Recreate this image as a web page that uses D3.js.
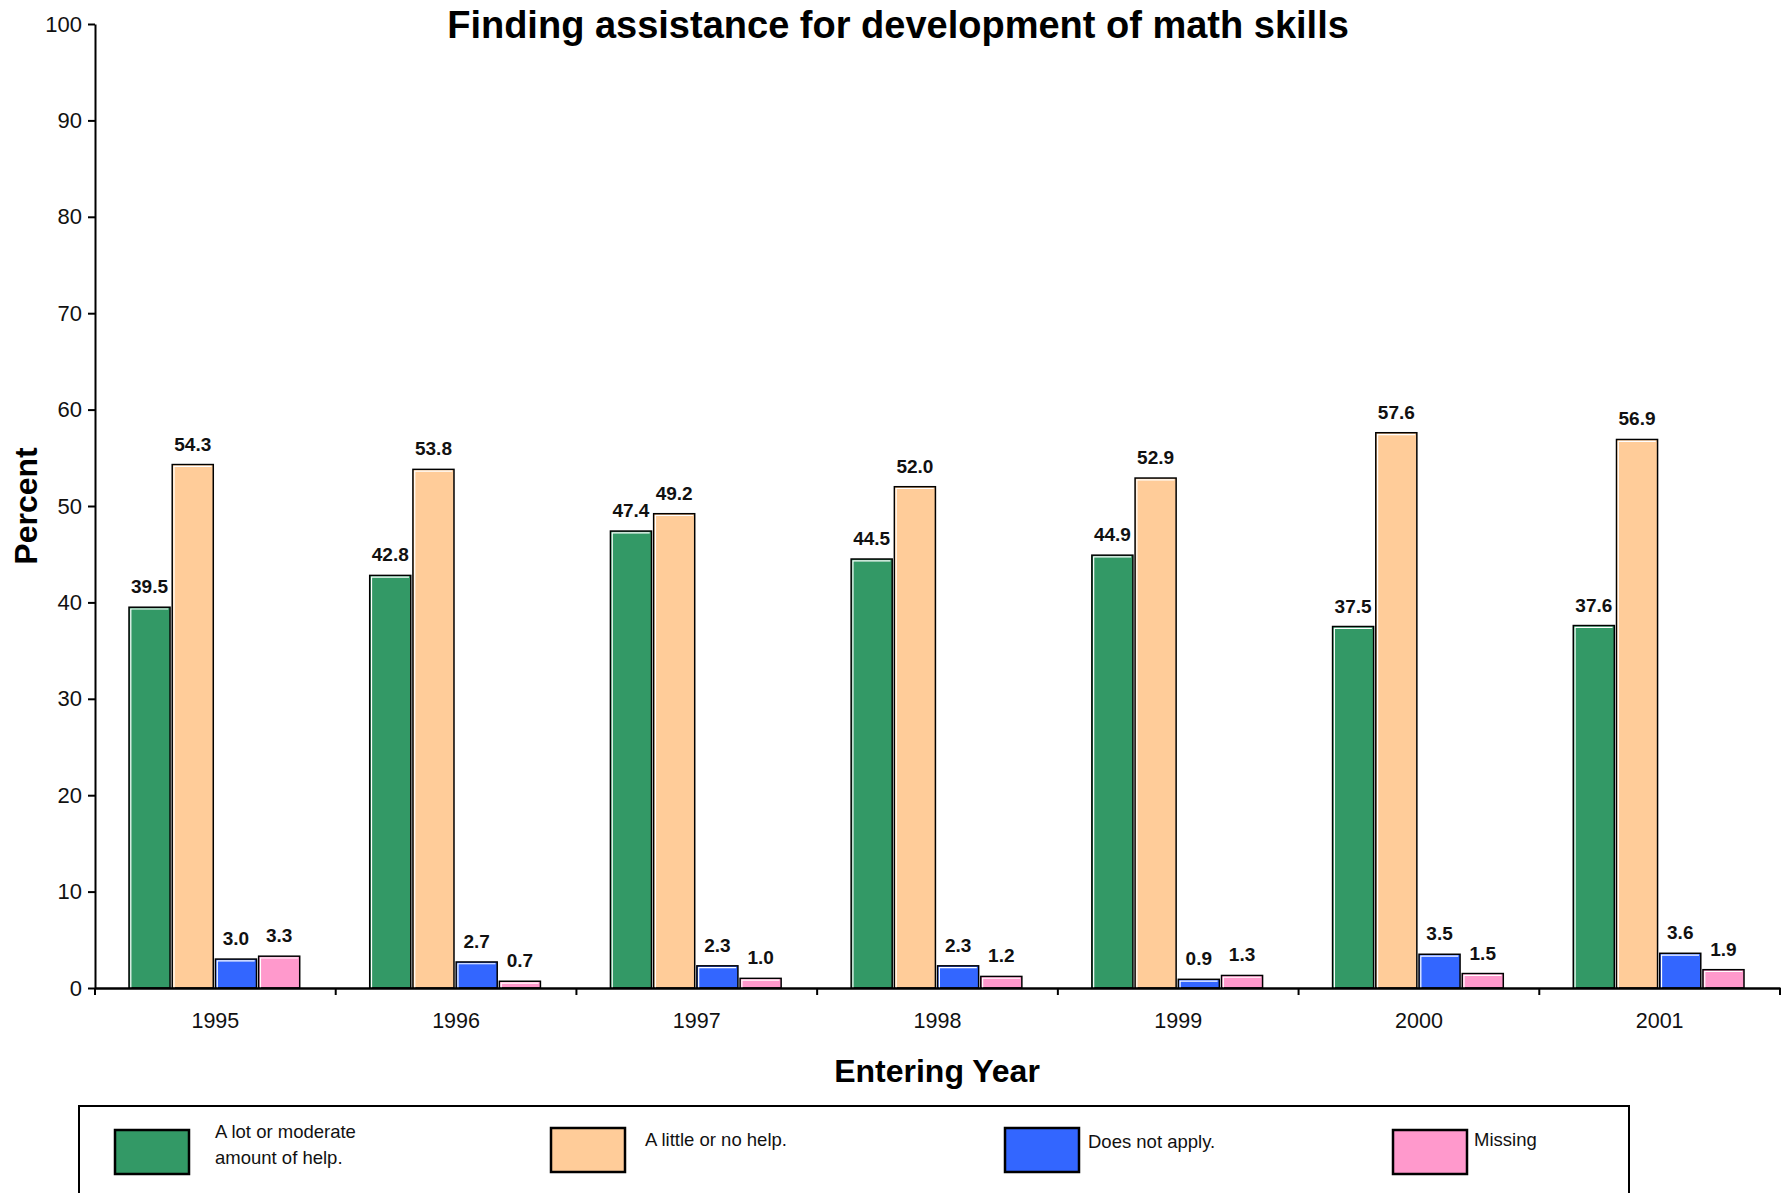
<!DOCTYPE html>
<html lang="en">
<head>
    <meta charset="UTF-8">
    <title>Finding assistance for development of math skills</title>
    <script src="https://cdn.jsdelivr.net/npm/d3@7/dist/d3.min.js"></script>
    <style>
        body { margin: 0; background: #fff; }
        text { font-family: "Liberation Sans", Arial, sans-serif; }
    </style>
</head>
<body>
<svg width="1787" height="1193" id="main"></svg>
<script>
    // data
    const years = ['1995', '1996', '1997', '1998', '1999', '2000', '2001'];
    const seriesNames = ['A lot or moderate amount of help.', 'A little or no help.', 'Does not apply.', 'Missing'];
    const lotOrModerate = [39.5, 42.8, 47.4, 44.5, 44.9, 37.5, 37.6];
    const littleOrNone = [54.3, 53.8, 49.2, 52.0, 52.9, 57.6, 56.9];
    const doesNotApply = [3.0, 2.7, 2.3, 2.3, 0.9, 3.5, 3.6];
    const missing = [3.3, 0.7, 1.0, 1.2, 1.3, 1.5, 1.9];
    const yTicks = [0, 10, 20, 30, 40, 50, 60, 70, 80, 90, 100];

    const seriesValues = [lotOrModerate, littleOrNone, doesNotApply, missing];
    const colors = ['#339966', '#FFCC99', '#3366FF', '#FF99CC'];

    let svg = d3.select('#main');
    let margin = {top: 24, right: 7, bottom: 205, left: 95};
    const width = +svg.attr('width');
    const height = +svg.attr('height');
    const innerWidth = width - margin.left - margin.right;
    const innerHeight = height - margin.top - margin.bottom;

    let xScale = d3.scaleBand().domain(years).range([0, innerWidth]).padding(0);
    let x1 = d3.scaleBand().domain(d3.range(4))
        .range([34, xScale.bandwidth() - 36]).paddingInner(0.05);
    let yScale = d3.scaleLinear().domain([0, 100]).range([innerHeight, 0]);

    let g = svg.append('g').attr('transform', `translate(${margin.left}, ${margin.top})`);

    // bars
    years.forEach((year, i) => {
        let grp = g.append('g').attr('transform', `translate(${xScale(year)}, 0)`);
        seriesValues.forEach((vals, s) => {
            const v = vals[i];
            const bx = x1(s), bw = x1.bandwidth();
            const by = yScale(v), bh = yScale(0) - yScale(v);
            grp.append('rect')
                .attr('x', bx).attr('y', by)
                .attr('width', bw).attr('height', bh)
                .attr('fill', colors[s])
                .attr('stroke', '#000').attr('stroke-width', 1.5);
            // white highlight on left and top edges
            if (bh > 3) {
                grp.append('path')
                    .attr('d', `M${bx + 1.8},${by + bh} V${by + 1.8} H${bx + bw - 1.8}`)
                    .attr('fill', 'none').attr('stroke', '#fff').attr('stroke-width', 1.2);
            }
            grp.append('text')
                .attr('x', bx + bw / 2).attr('y', by - 14)
                .attr('text-anchor', 'middle')
                .attr('font-size', '19px').attr('font-weight', 'bold')
                .attr('fill', '#111')
                .text(v.toFixed(1));
        });
    });

    // y axis
    let yAxis = d3.axisLeft(yScale).tickValues(yTicks).tickSize(7).tickPadding(6).tickSizeOuter(0);
    let yg = g.append('g').call(yAxis);
    yg.select('.domain').attr('stroke-width', 2);
    yg.selectAll('.tick line').attr('stroke-width', 2);
    yg.selectAll('.tick text').attr('font-size', '22px').attr('fill', '#111')
        .style('font-family', '"Liberation Sans", Arial, sans-serif');

    // x axis: ticks at category boundaries
    let xAxis = d3.axisBottom(xScale).tickSize(0).tickPadding(25).tickSizeOuter(0);
    let xg = g.append('g').attr('transform', `translate(0, ${innerHeight})`).call(xAxis);
    xg.select('.domain').attr('stroke-width', 2.5);
    xg.selectAll('.tick text').attr('font-size', '21.5px').attr('fill', '#111')
        .style('font-family', '"Liberation Sans", Arial, sans-serif');
    const bounds = years.map(y => xScale(y)).concat([innerWidth]);
    xg.selectAll('.sep').data(bounds).enter().append('line')
        .attr('x1', d => d).attr('x2', d => d)
        .attr('y1', 0).attr('y2', 7)
        .attr('stroke', '#000').attr('stroke-width', 2);

    // title and axis titles
    svg.append('text').text('Finding assistance for development of math skills')
        .attr('x', 898).attr('y', 38)
        .attr('text-anchor', 'middle')
        .attr('font-size', '38px').attr('font-weight', 'bold');

    svg.append('text').text('Entering Year')
        .attr('x', 937).attr('y', 1082)
        .attr('text-anchor', 'middle')
        .attr('font-size', '32px').attr('font-weight', 'bold');

    svg.append('text').text('Percent')
        .attr('transform', 'translate(37, 506) rotate(-90)')
        .attr('text-anchor', 'middle')
        .attr('font-size', '32px').attr('font-weight', 'bold');

    // legend
    svg.append('rect')
        .attr('x', 79).attr('y', 1106)
        .attr('width', 1550).attr('height', 100)
        .attr('fill', 'none').attr('stroke', '#000').attr('stroke-width', 2);

    const legendPos = [
        {sx: 115, sy: 1130, tx: 215, lines: ['A lot or moderate', 'amount of help.'], ty: 1138},
        {sx: 551, sy: 1128, tx: 645, lines: ['A little or no help.'], ty: 1146},
        {sx: 1005, sy: 1128, tx: 1088, lines: ['Does not apply.'], ty: 1148},
        {sx: 1393, sy: 1130, tx: 1474, lines: ['Missing'], ty: 1146}
    ];
    legendPos.forEach((p, s) => {
        svg.append('rect')
            .attr('x', p.sx).attr('y', p.sy)
            .attr('width', 74).attr('height', 44)
            .attr('fill', colors[s]).attr('stroke', '#000').attr('stroke-width', 2.5);
        let t = svg.append('text').attr('x', p.tx).attr('y', p.ty)
            .attr('font-size', '18.5px').attr('fill', '#111');
        p.lines.forEach((ln, k) => {
            t.append('tspan').attr('x', p.tx).attr('dy', k === 0 ? 0 : 26).text(ln);
        });
    });
</script>
</body>
</html>
